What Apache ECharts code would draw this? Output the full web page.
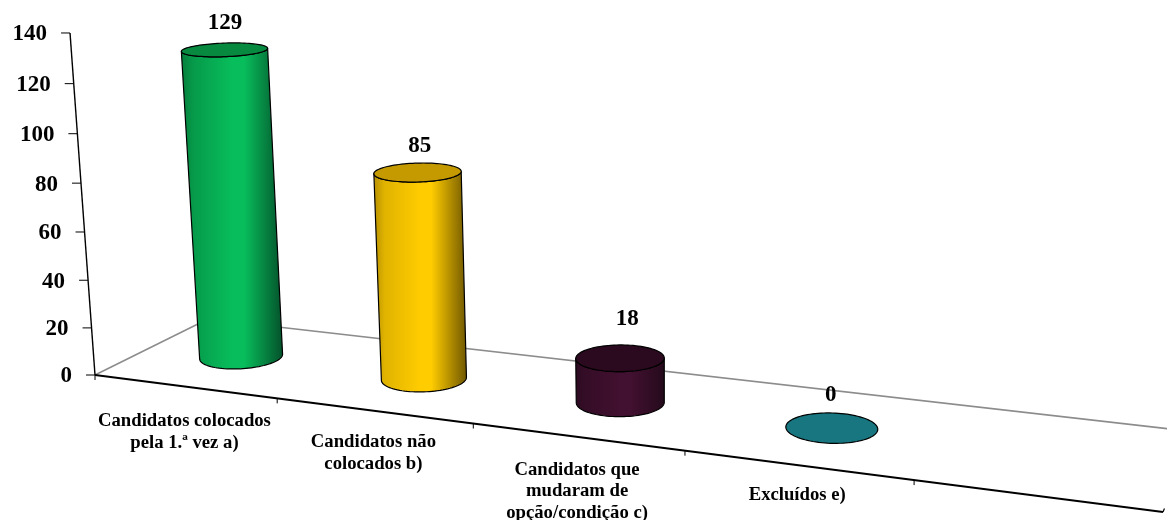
<!DOCTYPE html>
<html><head><meta charset="utf-8">
<style>html,body{margin:0;padding:0;background:#fff}#c{width:1167px;height:520px}</style>
<script src="https://cdn.jsdelivr.net/npm/echarts@6/dist/echarts.min.js"></script>
</head><body><div id="c"></div>
<script>
const categories = ['Candidatos colocados\npela 1.ª vez a)', 'Candidatos não\ncolocados b)', 'Candidatos que\nmudaram de\nopção/condição c)', 'Excluídos e)', ''];
const values = [129, 85, 18, 0];
const yTicks = [0, 20, 40, 60, 80, 100, 120, 140];
const bodyMid = ['#08bd5b', '#ffcc00', '#421030', '#17767f'];
const bodyEdgeL = ['#067c3b', '#b58f00', '#2c0b21', '#17767f'];
const bodySoftL = ['#069a4a', '#e0b300', '#350d27', '#17767f'];
const bodyEdgeR = ['#04502a', '#6e5600', '#240a1b', '#17767f'];
const topFill = ['#078a40', '#c49a00', '#2b0a1f', '#17767f'];
const valueNudgeX = [1, 3, 8, 0];
const valueNudgeY = [-27, -26, -39, -33];
const catNudgeY = [23.5, 20.5, 22, 19];

const FONT = '"Liberation Serif","Times New Roman",serif';
const G = {left: 100, top: 100, width: 500, height: 280};

// perspective camera: floor corners and vertical vanishing point
const A = [95, 375], B = [1163, 512], C = [208, 319], D = [1196, 432];
const sx = A[0]-B[0]+D[0]-C[0], sy = A[1]-B[1]+D[1]-C[1];
const dx1 = B[0]-D[0], dx2 = C[0]-D[0], dy1 = B[1]-D[1], dy2 = C[1]-D[1];
const den = dx1*dy2-dx2*dy1;
const g = (sx*dy2-dx2*sy)/den, h = (dx1*sy-sx*dy1)/den;
const a = B[0]-A[0]+g*B[0], b = C[0]-A[0]+h*C[0];
const d = B[1]-A[1]+g*B[1], e = C[1]-A[1]+h*C[1];
const k = -0.0419, Vx = 666, Vy = 8196;
function project(u, v, t) {
  const w = g*u+h*v+1+t*k;
  return [(a*u+b*v+A[0]+t*k*Vx)/w, (d*u+e*v+A[1]+t*k*Vy)/w];
}
// axis pixel -> scene fraction, so every mark comes through the axes' scales
function scene(api, slot, val) {
  const c = api.coord([slot, val]);
  return {u: (c[0]-G.left)/G.width, t: (G.top+G.height-c[1])/G.height};
}
const RU = 0.0402, RV = 0.2, VC = 0.5, UC_SHIFT = 0.0008;

function frameItem(params, api) {
  if (params.dataIndex > 0) return null;
  const band = api.size([1, 0])[0]/G.width;
  const kids = [];
  const line = (p, q, stroke, lw) => kids.push({type: 'line', shape: {x1: p[0], y1: p[1], x2: q[0], y2: q[1]}, style: {stroke, lineWidth: lw}});
  const o = project(0, 0, 0), tl = project(0, 1, 0), tr = project(1, 1, 0), e1 = project(1, 0, 0);
  line(o, tl, '#8c8c8c', 1.5);
  line(tl, tr, '#8c8c8c', 1.7);
  line(e1, project(1, 0.04, 0), '#000', 1.2);
  // value axis
  const pts = yTicks.map(v => { const s = scene(api, 0, v); return project(0, 0, s.t); });
  line(pts[0], pts[pts.length-1], '#000', 1.4);
  yTicks.forEach((v, i) => {
    const p = pts[i];
    line([p[0]-9, p[1]], p, '#000', 1);
    kids.push({type: 'text', style: {text: String(v), x: p[0]-23, y: p[1]+1.5, align: 'right', verticalAlign: 'middle', font: 'bold 23px '+FONT, fill: '#000'}});
  });
  // category axis
  line(o, e1, '#000', 1.9);
  categories.forEach((name, i) => {
    const s = scene(api, i, 0);
    const p = project(s.u-band/2, 0, 0);
    line(p, [p[0], p[1]+5], '#000', 1);
    if (name) {
      const m = project(s.u, 0, 0);
      kids.push({type: 'text', style: {text: name, x: m[0], y: m[1]+catNudgeY[i], align: 'center', verticalAlign: 'top', font: 'bold 18.7px '+FONT, lineHeight: 21.8, fill: '#000'}});
    }
  });
  return {type: 'group', children: kids};
}

function ring(uc, vc, t) {
  const r = [];
  for (let i = 0; i < 96; i++) {
    const th = i/96*Math.PI*2;
    r.push(project(uc+UC_SHIFT+RU*Math.cos(th), vc+RV*Math.sin(th), t));
  }
  return r;
}
function frontArc(r) {
  let li = 0, ri = 0;
  r.forEach((p, i) => { if (p[0] < r[li][0]) li = i; if (p[0] > r[ri][0]) ri = i; });
  const n = r.length, fwd = [], bwd = [];
  for (let i = li; ; i = (i+1)%n) { fwd.push(r[i]); if (i === ri) break; }
  for (let i = li; ; i = (i-1+n)%n) { bwd.push(r[i]); if (i === ri) break; }
  const avg = arr => arr.reduce((s, p) => s+p[1], 0)/arr.length;
  return avg(fwd) > avg(bwd) ? fwd : bwd;
}
function cylinderItem(params, api) {
  const i = params.dataIndex;
  const s = scene(api, api.value(0), api.value(1));
  const base = ring(s.u, VC, 0), top = ring(s.u, VC, s.t);
  const kids = [];
  if (s.t > 0) {
    const fb = frontArc(base), ft = frontArc(top);
    const body = fb.concat(ft.slice().reverse());
    kids.push({type: 'polygon', shape: {points: body}, style: {
      fill: {type: 'linear', x: 0, y: 0, x2: 1, y2: 0, colorStops: [
        {offset: 0, color: bodyEdgeL[i]}, {offset: 0.12, color: bodySoftL[i]}, {offset: 0.5, color: bodyMid[i]}, {offset: 0.62, color: bodyMid[i]}, {offset: 1, color: bodyEdgeR[i]}]},
      stroke: '#000', lineWidth: 1.2, lineJoin: 'round'}});
  }
  kids.push({type: 'polygon', shape: {points: top}, style: {fill: topFill[i], stroke: '#000', lineWidth: 1.2}});
  return {type: 'group', children: kids};
}
function valueLabelItem(params, api) {
  const i = params.dataIndex;
  const s = scene(api, api.value(0), api.value(1));
  const p = project(s.u, VC, s.t);
  return {type: 'text', style: {text: String(api.value(1)), x: p[0]+valueNudgeX[i], y: p[1]+valueNudgeY[i], align: 'center', verticalAlign: 'middle', font: 'bold 23px '+FONT, fill: '#000'}};
}

const points = values.map((v, i) => [i, v]);
const chart = echarts.init(document.getElementById('c'), null, {renderer: 'canvas'});
chart.setOption({
  animation: false,
  backgroundColor: '#fff',
  grid: G,
  xAxis: {type: 'category', data: categories, show: false},
  yAxis: {type: 'value', min: 0, max: 140, interval: 20, show: false},
  series: [
    {type: 'custom', name: 'frame', renderItem: frameItem, data: [[0, 0]], clip: false, silent: true, z: 1},
    {type: 'custom', name: 'cylinders', renderItem: cylinderItem, data: points, clip: false, silent: true, z: 2},
    {type: 'custom', name: 'labels', renderItem: valueLabelItem, data: points, clip: false, silent: true, z: 3}
  ]
});
</script></body></html>
